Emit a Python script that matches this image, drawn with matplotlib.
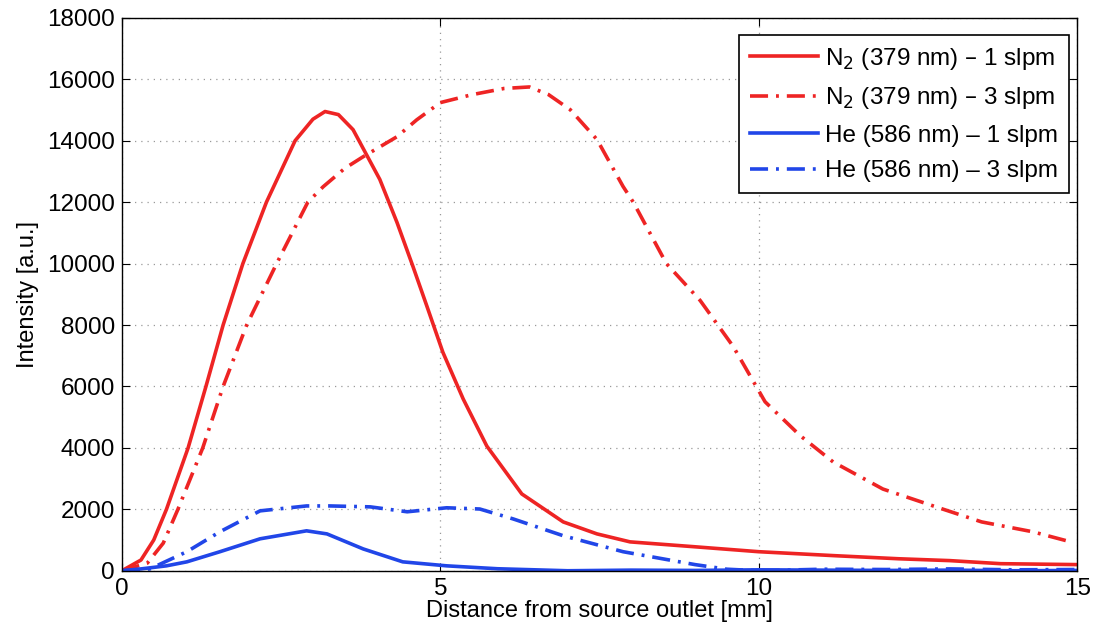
import matplotlib.pyplot as plt

plt.rcParams['font.family'] = ['Liberation Sans', 'DejaVu Sans']

# N2 (379 nm) - 1 slpm
x_n2_1 = [0, 0.3, 0.5, 0.7, 1.04, 1.32, 1.59, 1.9, 2.27, 2.72, 3.0, 3.19,
          3.4, 3.63, 4.05, 4.32, 4.57, 4.79, 5.04, 5.36, 5.73, 6.28, 6.93,
          7.46, 7.98, 9.0, 10.0, 11.2, 12.2, 13.0, 13.8, 15.0]
y_n2_1 = [0, 350, 1000, 2000, 4000, 6000, 8000, 10000, 12000, 14000, 14700, 14950,
          14850, 14360, 12740, 11340, 9910, 8610, 7115, 5590, 4060, 2500, 1590,
          1200, 940, 780, 620, 490, 390, 330, 230, 200]

# N2 (379 nm) - 3 slpm
x_n2_3 = [0, 0.4, 0.65, 0.88, 1.27, 1.59, 1.96, 2.43, 2.92, 3.16, 3.5, 3.79,
          4.32, 4.63, 5.0, 5.5, 6.0, 6.4, 6.7, 7.04, 7.46, 7.87, 8.03, 8.55,
          9.08, 9.6, 10.1, 10.65, 11.17, 11.95, 12.74, 13.5, 14.3, 14.9]
y_n2_3 = [0, 250, 900, 2000, 4000, 6000, 8000, 10000, 12000, 12500, 13100, 13480,
          14130, 14680, 15240, 15500, 15700, 15750, 15500, 15010, 14040, 12510,
          12000, 10000, 8800, 7300, 5500, 4400, 3540, 2660, 2110, 1590, 1270, 940]

# He (586 nm) - 1 slpm
x_he_1 = [0, 0.3, 0.7, 1.02, 1.54, 2.17, 2.9, 3.22, 3.79, 4.41, 5.1, 5.9, 7.0,
          8.0, 9.0, 10.0, 11.0, 12.0, 13.0, 14.0, 15.0]
y_he_1 = [0, 60, 160, 290, 620, 1040, 1300, 1200, 710, 290, 160, 65, 0,
          20, 10, 30, 20, 10, 20, 0, 10]

# He (586 nm) - 3 slpm
x_he_3 = [0, 0.44, 1.02, 1.54, 2.17, 2.9, 3.27, 3.9, 4.48, 5.1, 5.62, 6.14,
          6.93, 7.87, 9.0, 9.5, 10.0, 11.0, 12.0, 13.0, 14.0, 15.0]
y_he_3 = [0, 60, 620, 1270, 1950, 2110, 2110, 2080, 1920, 2050, 2010, 1690,
          1140, 620, 200, 50, 0, 50, 40, 60, 30, 40]

red = '#ee2424'
blue = '#2146e8'
dashdot = (0, (5, 2.2, 0.8, 2.2))

fig = plt.figure(figsize=(10.98, 6.37), dpi=100)
ax = fig.add_axes([0.111, 0.104, 0.870, 0.868])

ax.plot(x_n2_1, y_n2_1, color=red, lw=2.6, label=r'N$_2$ (379 nm) – 1 slpm')
ax.plot(x_n2_3, y_n2_3, color=red, lw=2.6, linestyle=dashdot,
        label=r'N$_2$ (379 nm) – 3 slpm')
ax.plot(x_he_1, y_he_1, color=blue, lw=2.6, label='He (586 nm) – 1 slpm')
ax.plot(x_he_3, y_he_3, color=blue, lw=2.6, linestyle=dashdot,
        label='He (586 nm) – 3 slpm')

ax.set_xlim(0, 15)
ax.set_ylim(0, 18000)
ax.set_xticks([0, 5, 10, 15])
ax.set_yticks(range(0, 18001, 2000))
ax.grid(True, color='#999999', linestyle=(0, (1, 4)), linewidth=0.9)
ax.tick_params(direction='in', top=True, right=True, labelsize=17.5, length=6,
               pad=5)
for s in ax.spines.values():
    s.set_linewidth(1.0)

ax.set_xlabel('Distance from source outlet [mm]', fontsize=17, labelpad=0)
ax.set_ylabel('Intensity [a.u.]', fontsize=17, labelpad=6)

leg = ax.legend(loc='upper right', bbox_to_anchor=(0.9916, 0.969),
                fontsize=17.5, fancybox=False, framealpha=1,
                edgecolor='black', handlelength=2.8, handletextpad=0.3,
                borderaxespad=0, labelspacing=0.55, borderpad=0.45)
leg.get_frame().set_linewidth(1.2)

fig.savefig('out.png', dpi=100)
